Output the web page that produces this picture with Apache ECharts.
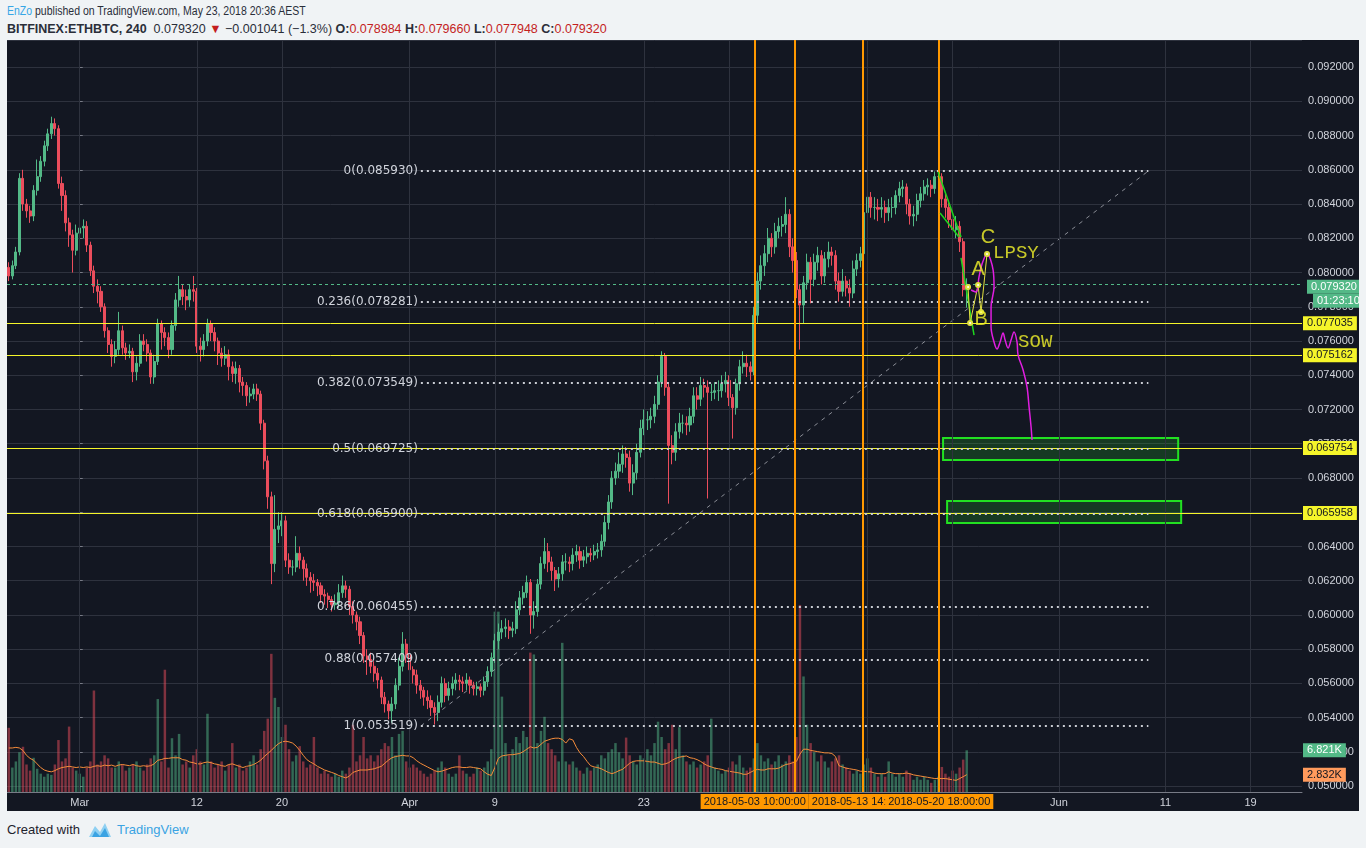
<!DOCTYPE html>
<html><head><meta charset="utf-8">
<script src="https://cdn.jsdelivr.net/npm/echarts@6/dist/echarts.min.js"></script>
<style>
html,body{margin:0;padding:0;}
body{width:1366px;height:848px;background:#f0f3f5;position:relative;overflow:hidden;font-family:"Liberation Sans",Arial,sans-serif;}
.hdr{position:absolute;left:7px;white-space:nowrap;color:#2a2e39;}
#l1{top:4px;font-size:12.5px;transform-origin:0 50%;transform:scaleX(0.84);}
#l2{top:22px;font-size:12.5px;}
.r{color:#c41e1e;}
#chart{position:absolute;left:7px;top:40px;width:1352px;height:771px;}
#foot{position:absolute;left:7px;top:821px;white-space:nowrap;font-size:13px;color:#1e222d;}
#foot svg{vertical-align:-5px;margin:0 5px 0 8px;}
#foot .tv{color:#3aa3e3;}
</style></head>
<body>
<div class="hdr" id="l1"><span style="color:#36a6e6">EnZo</span> published on TradingView.com, May 23, 2018 20:36 AEST</div>
<div class="hdr" id="l2"><b>BITFINEX:ETHBTC, 240</b>&nbsp; 0.079320 <span class="r">▼</span> −0.001041 (−1.3%) <b>O:</b><span class="r">0.078984</span> <b>H:</b><span class="r">0.079660</span> <b>L:</b><span class="r">0.077948</span> <b>C:</b><span class="r">0.079320</span></div>
<div id="chart"></div>
<div id="foot">Created with<svg width="24" height="18" viewBox="0 0 24 18"><path d="M1 16 L7 5 L12 11 L17 2 L23 16 Z" fill="#8fd0f2"/><path d="M4 16 L7 10 L12 15 L17 7 L21 16 Z" fill="#3aa3e3"/></svg><span class="tv">TradingView</span></div>
<script>
// ---------------- data (8h candles, [open, close, low, high]) ----------------
const candles = [
[.0803,.0798,.0795,.0806],[.0798,.0804,.0796,.0807],[.0804,.0812,.0802,.0815],[.0812,.0855,.0810,.0858],[.0855,.0840,.0836,.0860],[.0840,.0836,.0832,.0843],[.0836,.0833,.0829,.0839],[.0833,.0848,.0830,.0851],[.0848,.0856,.0845,.0866],[.0856,.0865,.0853,.0868],
[.0865,.0874,.0862,.0877],[.0874,.0881,.0871,.0884],[.0881,.0887,.0878,.0891],[.0887,.0884,.0880,.0890],[.0884,.0852,.0849,.0886],[.0852,.0845,.0836,.0856],[.0845,.0829,.0824,.0848],[.0829,.0822,.0815,.0832],[.0822,.0813,.0800,.0825],[.0813,.0823,.0810,.0828],
[.0823,.0826,.0819,.0830],[.0826,.0827,.0820,.0831],[.0827,.0816,.0812,.0830],[.0816,.0801,.0798,.0818],[.0801,.0792,.0788,.0804],[.0792,.0789,.0782,.0796],[.0789,.0780,.0777,.0792],[.0780,.0766,.0762,.0782],[.0766,.0758,.0753,.0768],[.0758,.0751,.0745,.0761],
[.0751,.0755,.0747,.0760],[.0755,.0766,.0752,.0777],[.0766,.0756,.0752,.0769],[.0756,.0753,.0749,.0759],[.0753,.0754,.0750,.0758],[.0754,.0742,.0736,.0756],[.0742,.0747,.0737,.0751],[.0747,.0760,.0745,.0764],[.0760,.0758,.0754,.0764],[.0758,.0753,.0748,.0761],
[.0753,.0739,.0735,.0755],[.0739,.0748,.0735,.0752],[.0748,.0770,.0746,.0773],[.0770,.0765,.0755,.0772],[.0765,.0762,.0757,.0768],[.0762,.0755,.0750,.0765],[.0755,.0769,.0752,.0772],[.0769,.0784,.0766,.0788],[.0784,.0790,.0780,.0798],[.0790,.0786,.0781,.0793],
[.0786,.0784,.0778,.0790],[.0784,.0790,.0780,.0793],[.0790,.0789,.0783,.0798],[.0789,.0757,.0753,.0791],[.0757,.0755,.0748,.0762],[.0755,.0760,.0751,.0764],[.0760,.0770,.0757,.0773],[.0770,.0765,.0760,.0772],[.0765,.0760,.0754,.0768],[.0760,.0753,.0746,.0762],
[.0753,.0750,.0745,.0756],[.0750,.0752,.0746,.0757],[.0752,.0745,.0737,.0755],[.0745,.0741,.0736,.0748],[.0741,.0744,.0735,.0748],[.0744,.0736,.0730,.0746],[.0736,.0734,.0728,.0739],[.0734,.0728,.0722,.0736],[.0728,.0729,.0724,.0733],[.0729,.0732,.0726,.0735],
[.0732,.0729,.0725,.0735],[.0729,.0712,.0708,.0731],[.0712,.0690,.0685,.0714],[.0690,.0669,.0662,.0693],[.0669,.0630,.0618,.0672],[.0630,.0650,.0625,.0670],[.0650,.0652,.0642,.0660],[.0652,.0655,.0646,.0660],[.0655,.0632,.0628,.0658],[.0632,.0628,.0624,.0636],
[.0628,.0628,.0623,.0632],[.0628,.0636,.0625,.0646],[.0636,.0632,.0627,.0640],[.0632,.0627,.0620,.0634],[.0627,.0622,.0617,.0630],[.0622,.0620,.0613,.0625],[.0620,.0619,.0614,.0624],[.0619,.0617,.0611,.0621],[.0617,.0612,.0607,.0619],[.0612,.0611,.0606,.0615],
[.0611,.0609,.0604,.0613],[.0609,.0606,.0602,.0611],[.0606,.0607,.0603,.0612],[.0607,.0613,.0604,.0618],[.0613,.0617,.0610,.0623],[.0617,.0615,.0610,.0620],[.0615,.0605,.0600,.0617],[.0605,.0600,.0595,.0608],[.0600,.0596,.0591,.0602],[.0596,.0588,.0583,.0599],
[.0588,.0576,.0572,.0590],[.0576,.0574,.0565,.0580],[.0574,.0570,.0566,.0578],[.0570,.0566,.0561,.0573],[.0566,.0562,.0557,.0569],[.0562,.0552,.0548,.0564],[.0552,.0548,.0543,.0555],[.0548,.0544,.0539,.0550],[.0544,.0548,.0537,.0552],[.0548,.0559,.0545,.0563],
[.0559,.0570,.0556,.0575],[.0570,.0583,.0567,.0590],[.0583,.0577,.0572,.0586],[.0577,.0568,.0563,.0580],[.0568,.0565,.0560,.0570],[.0565,.0559,.0554,.0568],[.0559,.0556,.0551,.0562],[.0556,.0552,.0547,.0558],[.0552,.0550,.0545,.0556],[.0550,.0546,.0541,.0553],
[.0546,.0543,.0536,.0549],[.0543,.0549,.0538,.0553],[.0549,.0560,.0546,.0564],[.0560,.0553,.0549,.0563],[.0553,.0557,.0550,.0561],[.0557,.0560,.0553,.0564],[.0560,.0562,.0556,.0566],[.0562,.0561,.0556,.0565],[.0561,.0560,.0555,.0564],[.0560,.0562,.0556,.0566],
[.0562,.0559,.0554,.0564],[.0559,.0557,.0553,.0561],[.0557,.0558,.0553,.0561],[.0558,.0556,.0552,.0560],[.0556,.0561,.0553,.0564],[.0561,.0567,.0558,.0570],[.0567,.0575,.0564,.0578],[.0575,.0585,.0572,.0589],[.0585,.0590,.0580,.0595],[.0590,.0592,.0586,.0597],
[.0592,.0593,.0587,.0598],[.0593,.0591,.0586,.0597],[.0591,.0592,.0587,.0596],[.0592,.0603,.0589,.0608],[.0603,.0610,.0600,.0614],[.0610,.0613,.0606,.0617],[.0613,.0619,.0610,.0623],[.0619,.0600,.0589,.0621],[.0600,.0602,.0592,.0608],[.0602,.0618,.0599,.0621],
[.0618,.0630,.0615,.0634],[.0630,.0637,.0627,.0645],[.0637,.0631,.0625,.0642],[.0631,.0626,.0620,.0634],[.0626,.0621,.0614,.0628],[.0621,.0624,.0616,.0628],[.0624,.0631,.0620,.0635],[.0631,.0631,.0626,.0636],[.0631,.0630,.0625,.0634],[.0630,.0635,.0626,.0639],
[.0635,.0637,.0631,.0641],[.0637,.0632,.0627,.0640],[.0632,.0634,.0628,.0638],[.0634,.0636,.0630,.0640],[.0636,.0635,.0631,.0639],[.0635,.0637,.0632,.0641],[.0637,.0638,.0633,.0642],[.0638,.0643,.0634,.0647],[.0643,.0654,.0640,.0658],[.0654,.0666,.0650,.0670],
[.0666,.0680,.0662,.0684],[.0680,.0684,.0676,.0689],[.0684,.0688,.0680,.0695],[.0688,.0694,.0683,.0699],[.0694,.0692,.0686,.0698],[.0692,.0677,.0672,.0696],[.0677,.0683,.0670,.0688],[.0683,.0695,.0679,.0700],[.0695,.0709,.0692,.0714],[.0709,.0714,.0705,.0720],
[.0714,.0714,.0708,.0719],[.0714,.0716,.0709,.0721],[.0716,.0723,.0712,.0728],[.0723,.0736,.0720,.0740],[.0736,.0751,.0733,.0754],[.0751,.0733,.0728,.0753],[.0733,.0699,.0665,.0736],[.0699,.0695,.0688,.0705],[.0695,.0707,.0690,.0712],[.0707,.0712,.0703,.0718],
[.0712,.0712,.0706,.0717],[.0712,.0711,.0705,.0716],[.0711,.0716,.0707,.0721],[.0716,.0728,.0712,.0733],[.0728,.0726,.0720,.0733],[.0726,.0734,.0722,.0739],[.0734,.0733,.0727,.0738],[.0733,.0730,.0668,.0737],[.0730,.0730,.0725,.0735],[.0730,.0731,.0726,.0736],
[.0731,.0731,.0725,.0737],[.0731,.0735,.0727,.0740],[.0735,.0737,.0730,.0742],[.0737,.0727,.0722,.0740],[.0727,.0721,.0703,.0729],[.0721,.0735,.0717,.0738],[.0735,.0745,.0731,.0749],[.0745,.0747,.0741,.0754],[.0747,.0745,.0739,.0752],[.0745,.0742,.0737,.0748],
[.0742,.0775,.0740,.0780],[.0775,.0795,.0770,.0800],[.0795,.0804,.0790,.0810],[.0804,.0811,.0798,.0816],[.0811,.0820,.0806,.0826],[.0820,.0815,.0809,.0823],[.0815,.0824,.0811,.0829],[.0824,.0827,.0820,.0832],[.0827,.0828,.0821,.0833],[.0828,.0834,.0823,.0844],
[.0834,.0815,.0809,.0837],[.0815,.0807,.0800,.0820],[.0807,.0790,.0785,.0812],[.0790,.0781,.0755,.0793],[.0781,.0794,.0770,.0798],[.0794,.0806,.0790,.0811],[.0806,.0796,.0782,.0809],[.0796,.0806,.0792,.0811],[.0806,.0810,.0801,.0815],[.0810,.0798,.0793,.0813],
[.0798,.0808,.0794,.0812],[.0808,.0812,.0803,.0818],[.0812,.0810,.0804,.0815],[.0810,.0795,.0790,.0813],[.0795,.0789,.0783,.0800],[.0789,.0795,.0786,.0802],[.0795,.0791,.0786,.0798],[.0791,.0788,.0780,.0796],[.0788,.0802,.0785,.0807],[.0802,.0807,.0798,.0811],
[.0807,.0811,.0803,.0815],[.0811,.0835,.0808,.0840],[.0835,.0844,.0831,.0849],[.0844,.0838,.0832,.0847],[.0838,.0838,.0831,.0844],[.0838,.0837,.0830,.0843],[.0837,.0838,.0832,.0844],[.0838,.0835,.0829,.0842],[.0835,.0838,.0830,.0843],[.0838,.0838,.0832,.0844],
[.0838,.0845,.0834,.0848],[.0845,.0849,.0841,.0853],[.0849,.0850,.0844,.0854],[.0850,.0840,.0834,.0852],[.0840,.0833,.0828,.0843],[.0833,.0834,.0827,.0839],[.0834,.0842,.0830,.0846],[.0842,.0846,.0838,.0850],[.0846,.0850,.0842,.0854],[.0850,.0851,.0845,.0855],
[.0851,.0849,.0844,.0854],[.0849,.0856,.0846,.0859],[.0856,.0856,.0850,.0860],[.0856,.0843,.0838,.0858],[.0843,.0838,.0832,.0846],[.0838,.0831,.0826,.0842],[.0831,.0825,.0819,.0834],[.0825,.0827,.0820,.0833],[.0827,.0818,.0812,.0830],[.0818,.0790,.0786,.0820],[.078984,.07932,.077948,.07966]
];
// volume per candle (thousands)
const volumes = [
10.5,4,5,6.5,7.4,4.5,3.5,5.6,3.8,3, 2.5,3,2.8,4.5,8.5,5,5.5,10.7,4,3.5, 3,2.5,4,5,16.6,4.5,5,6,5.5,4, 4,5,4.5,3.5,4,4.5,5,4,3.5,4.5,
5.5,6,15.2,5,20,4,8.8,6,9.5,4.5, 5,4,6,7,5,4.5,12.8,5,4,4.5, 5,3.5,4.5,8,4,4.5,3.5,4,5,6, 4.5,7,10,12,22.6,15.4,13.9,9,11,7,
5,6,7.5,5,4,4.5,9,4,3,3.5, 3,2.5,3,2.5,3.5,3,4,11,5,6, 9,5.5,6,5,6,7,8,7.5,9,6, 9.5,10,5,4,4.5,4,3.5,3,2.5,3,
3.5,4,5,4,3,2.5,3,6,3.5,3, 2.5,3,4,3.5,4,5,7,29.5,29.5,15.6, 8,6,7,9,8,10,9,22.8,22.5,8, 10,12.3,8,7,6,5,24.4,5,4.5,5,
4,3.5,3,4,3.5,4,4.5,6,5.5,6.5, 7,8,6.5,5.5,8.9,6,5,4.5,6,5.5, 7,6,8,11.5,9,7,8,11,7,10.6, 6,5,4.5,5,4,4.5,5,6,12,4,
3.5,3,3.5,4,5,4.5,6,4,3.5,4, 5.5,8,6,5,5.5,4.5,5,6,4.5,5, 6,5,9,30.6,18.9,11,8,6.5,5,6, 5,4,5,5.5,6,4.5,4,3.5,3,3.5,
3,4.5,5.5,4,3,2.5,3,2.5,5,3, 2.5,3,2.5,3.5,3,2,2.5,2,2.5,2, 1.5,2,2.5,4.1,3,2.5,3.5,3,4,5.3,6.821
];
// volume moving average (thousands)
const volumeMA = [
7.2,7.2,7.3,7.2,6.8,6.0,5.5,5.2,4.6,4.0, 3.6,3.4,3.3,3.5,3.8,4.0,4.1,4.2,4.1,4.0, 4.1,4.0,4.1,4.0,4.2,4.3,4.2,4.4,4.3,4.4, 4.2,4.4,4.5,4.4,4.3,4.5,4.3,4.2,4.3,4.2,
4.3,4.6,5.2,5.3,5.5,5.5,5.6,5.6,5.6,5.3, 5.2,4.9,4.8,4.6,4.6,4.8,4.9,4.8,4.6,4.5, 4.3,4.2,4.5,4.6,4.4,4.2,4.0,4.2,4.3,4.5, 4.8,5.2,5.8,6.3,6.8,7.4,7.9,8.2,8.3,8.2,
8.0,7.5,6.8,6.0,5.3,4.9,4.6,4.2,3.9,3.6, 3.4,3.2,3.0,2.7,2.5,2.3,2.6,3.2,3.4,3.6, 3.6,3.6,3.7,3.8,4.0,4.2,4.7,5.2,5.6,5.8, 5.9,6.0,5.9,5.9,5.6,5.1,4.7,4.4,4.1,3.8,
3.5,3.3,3.4,3.6,3.8,4.0,4.1,4.1,4.0,4.0, 4.1,4.0,3.9,3.8,3.3,2.9,2.7,4.0,5.5,5.9, 6.0,6.1,6.1,6.2,6.3,6.6,7.0,7.4,7.2,7.3, 7.8,8.3,8.5,8.7,8.8,8.8,8.6,8.0,8.7,8.5,
7.3,6.4,5.8,5.0,4.3,4.1,4.0,3.8,3.5,3.2, 3.0,3.2,3.5,3.7,4.2,4.7,5.0,5.1,5.1,5.1, 5.0,4.9,4.9,4.7,4.5,4.6,4.8,5.2,5.5,5.7, 5.8,5.9,5.6,5.5,5.3,5.0,4.6,4.3,4.1,3.9,
3.8,3.7,3.5,3.4,3.3,3.2,3.1,2.9,2.9,3.2, 3.5,3.7,3.6,3.6,3.8,3.8,3.8,3.9,4.2,4.5, 4.6,4.8,5.0,6.2,7.0,7.0,6.8,6.7,6.6,6.5, 6.4,6.4,6.3,5.8,4.3,4.1,3.9,3.8,3.7,3.6,
3.4,3.4,3.3,3.3,3.1,3.0,3.0,3.0,3.3,3.1, 3.0,3.0,3.0,3.1,3.0,2.8,2.7,2.6,2.5,2.4, 2.3,2.2,2.2,2.2,2.2,2.1,2.0,1.9,2.2,2.5,2.832
];
// axis ticks
const tickDates  = ['2018-03-01','2018-03-12','2018-03-20','2018-04-01','2018-04-09','2018-04-23','2018-06-01','2018-06-11','2018-06-19'];
const tickLabels = ['Mar','12','20','Apr','9','23','Jun','11','19'];
const gridDates  = tickDates.concat(['2018-05-01','2018-05-14','2018-05-22']);
// fib retracement
const fibRatios = ['0','0.236','0.382','0.5','0.618','0.786','0.88','1'];
const fibPrices = [0.085930,0.078281,0.073549,0.069725,0.065900,0.060455,0.057409,0.053519];
const fibDays   = [32.05, 100.4];            // days since 2018-03-01
// horizontal levels & tags
const levelPrices = [0.077035,0.075162,0.069754,0.065958];
const lastPrice = 0.079320, lastPriceText = '0.079320', barTimer = '01:23:10';
const volTagValues = [6.821, 2.832], volTagTexts = ['6.821K','2.832K'];
// vertical markers
const vlineTimes  = ['2018-05-07 04:00','2018-05-03 10:00','2018-05-13 14:00','2018-05-20 18:00'];
const vlineLabels = ['','2018-05-03 10:00:00','2018-05-13 14:00:00','2018-05-20 18:00:00'];
// drawings: [days since 2018-03-01, price]
const greenLines = [
  [[80.64,0.08587],[82.80,0.08207]],
  [[80.83,0.08348],[82.61,0.08207]],
  [[82.80,0.08085],[84.02,0.07635]]
];
const abcPath = [[83.46,0.07915],[83.65,0.07705],[84.40,0.07927],[84.68,0.07769],[85.24,0.08108]];
const projPath = [[83.74,0.07898],[84.21,0.07886],[84.49,0.07974],[84.77,0.08050],[85.24,0.08108],[85.81,0.08015],[85.90,0.07915],[85.62,0.07799],[85.62,0.07682],[85.90,0.07594],[86.18,0.07553],[86.47,0.07594],[86.75,0.07647],[86.94,0.07606],[87.22,0.07559],[87.50,0.07606],[87.78,0.07653],[88.06,0.07594],[88.16,0.07518],[88.63,0.07431],[89.00,0.07331],[89.19,0.07215],[89.38,0.07098],[89.47,0.07022]];
const targetBoxes = [[[81.11,0.070334],[103.2,0.069049]],[[81.49,0.066654],[103.48,0.065369]]];
const noteTexts  = ['C','A','B','LPSY','SOW'];
const notePoints = [[85.34,0.08202],[84.40,0.08015],[84.68,0.07723],[85.81,0.08114],[88.16,0.07594]];

// ---------------- build ----------------
const DAY = 86400000, MAR1 = Date.UTC(2018,2,1), START = Date.UTC(2018,1,22,8), STEP = 8*3600000, SLOTS = 365;
const pad = n => (n < 10 ? '0' : '') + n;
const categories = [];
for (let i = 0; i < SLOTS; i++) {
  const d = new Date(START + i*STEP);
  categories.push(d.getUTCFullYear()+'-'+pad(d.getUTCMonth()+1)+'-'+pad(d.getUTCDate())+' '+pad(d.getUTCHours())+':00');
}
const labelMap = {}; tickDates.forEach((d,k) => { labelMap[d+' 00:00'] = tickLabels[k]; });
const dayOf = s => (Date.parse(s.replace(' ','T')+':00Z') - MAR1)/DAY;
const xMin = (START - STEP/2 - MAR1)/DAY, xMax = xMin + SLOTS*STEP/DAY;

const UP = '#53b987', DOWN = '#eb4d5c', GRID = '#2e323e', AXIS = '#787b86', TXT = '#d1d4dc', YEL = '#f5f52a';
const volData = volumes.map((v,i) => ({value: v, itemStyle: {color: candles[i][1] >= candles[i][0] ? 'rgba(83,185,135,0.5)' : 'rgba(235,77,92,0.5)'}}));

const chart = echarts.init(document.getElementById('chart'));
const option = {
  animation: false,
  backgroundColor: '#131722',
  textStyle: {fontFamily: 'Liberation Sans'},
  grid: {left: 0, right: 57, top: 0, bottom: 19, containLabel: false, outerBoundsMode: 'none'},
  xAxis: [
    {type: 'category', data: categories, boundaryGap: true, gridIndex: 0,
     axisLine: {show: true, lineStyle: {color: AXIS}}, axisTick: {show: false},
     axisLabel: {interval: (i,v) => labelMap[v] !== undefined, formatter: v => labelMap[v] || '', color: TXT, fontSize: 11, margin: 5, hideOverlap: false},
     splitLine: {show: false}},
    {type: 'value', min: xMin, max: xMax, show: false, gridIndex: 0}
  ],
  yAxis: [
    {type: 'value', position: 'right', min: 0.04966, max: 0.09358, splitNumber: 22, minInterval: 0.002, maxInterval: 0.002, gridIndex: 0,
     axisLine: {show: true, lineStyle: {color: AXIS}}, axisTick: {show: true, length: 3, lineStyle: {color: AXIS}},
     axisLabel: {formatter: v => v.toFixed(6), color: TXT, fontSize: 11, margin: 6, showMinLabel: false, showMaxLabel: false, hideOverlap: false},
     splitLine: {show: true, lineStyle: {color: GRID, width: 1}}},
    {type: 'value', min: 0, max: 123, show: false, gridIndex: 0}
  ],
  series: [
    {type: 'line', name: 'Time grid', xAxisIndex: 1, yAxisIndex: 0, z: 0, silent: true, symbol: 'none', data: [],
     markLine: {silent: true, symbol: ['none','none'], animation: false, precision: 6, label: {show: false},
       lineStyle: {color: GRID, width: 1, type: 'solid'},
       data: gridDates.map(d => ({xAxis: dayOf(d + ' 00:00')}))}},
    {type: 'bar', name: 'Volume', xAxisIndex: 0, yAxisIndex: 1, data: volData, barWidth: '70%', z: 1, silent: true,
     markLine: {silent: true, symbol: ['none','none'], animation: false, precision: 6, lineStyle: {color: 'rgba(0,0,0,0)', width: 0},
       label: {position: 'end', distance: 1, fontSize: 11, padding: [2,4,1,4]},
       data: [
         {yAxis: volTagValues[0], label: {formatter: volTagTexts[0], backgroundColor: UP, color: '#ffffff'}},
         {yAxis: volTagValues[1], label: {formatter: volTagTexts[1], backgroundColor: '#ff9a5c', color: '#131722'}}
       ]}},
    {type: 'line', name: 'Vol MA', xAxisIndex: 0, yAxisIndex: 1, data: volumeMA, symbol: 'none', z: 2, silent: true,
     lineStyle: {color: '#f68c3a', width: 1}},
    {type: 'candlestick', name: 'ETHBTC', xAxisIndex: 0, yAxisIndex: 0, data: candles, barWidth: '72%', z: 3, silent: true,
     itemStyle: {color: UP, color0: DOWN, borderColor: UP, borderColor0: DOWN, borderWidth: 1},
     markLine: {silent: true, symbol: ['none','none'], animation: false, precision: 6,
       label: {position: 'end', distance: 1, fontSize: 11, padding: [2,4,1,4], color: '#131722', backgroundColor: YEL},
       lineStyle: {color: YEL, width: 1, type: 'solid'},
       data: levelPrices.map(v => ({yAxis: v, label: {formatter: v.toFixed(6)}})).concat([
         {yAxis: lastPrice, lineStyle: {color: UP, type: [3,3], width: 1},
          label: {formatter: () => '{px|' + lastPriceText + '}\n{sp| }{tm|' + barTimer + '}', backgroundColor: 'transparent', offset: [0, 9],
            rich: {px: {backgroundColor: UP, color: '#ffffff', fontSize: 11, padding: [2,4,1,4]},
                   sp: {width: 6, fontSize: 11},
                   tm: {backgroundColor: UP, color: '#ffffff', fontSize: 11, padding: [2,4,1,4]}}}}
       ])}},
    {type: 'line', name: 'Fib trend', xAxisIndex: 1, yAxisIndex: 0, z: 4, silent: true, symbol: 'none',
     data: [[fibDays[0], fibPrices[7]], [fibDays[1], fibPrices[0]]],
     lineStyle: {color: '#8a8d96', width: 1, type: [4,5]},
     markLine: {silent: true, symbol: ['none','none'], animation: false, precision: 6,
       lineStyle: {color: '#c9ccd3', width: 2, type: [2,4]},
       label: {position: 'start', distance: 3, color: TXT, fontSize: 12, fontFamily: 'DejaVu Sans'},
       data: fibRatios.map((r,k) => [
         {coord: [fibDays[0], fibPrices[k]], label: {formatter: r + '(' + fibPrices[k].toFixed(6) + ')'}},
         {coord: [fibDays[1], fibPrices[k]]}
       ])}},
    ...greenLines.map(seg => ({type: 'line', xAxisIndex: 1, yAxisIndex: 0, z: 5, silent: true, symbol: 'none', data: seg,
       lineStyle: {color: '#1ed61e', width: 1.5}})),
    {type: 'line', name: 'ABC', xAxisIndex: 1, yAxisIndex: 0, z: 6, silent: true, data: abcPath,
     symbol: 'emptyCircle', symbolSize: 4, showSymbol: true, itemStyle: {color: '#e0e040'}, lineStyle: {color: '#e0e040', width: 1},
     markLine: {silent: true, symbol: ['none','none'], animation: false, precision: 6,
       lineStyle: {color: '#ff9800', width: 2, type: 'solid'},
       label: {position: 'start', distance: 2, fontSize: 11, color: '#131722', backgroundColor: '#ff9800', padding: [2,3,2,3]},
       data: vlineTimes.map((t,k) => ({xAxis: dayOf(t), label: vlineLabels[k] ? {formatter: vlineLabels[k]} : {show: false}}))}},
    {type: 'line', name: 'Projection', xAxisIndex: 1, yAxisIndex: 0, z: 6, silent: true, data: projPath, smooth: 0.35,
     symbol: 'none', lineStyle: {color: '#e01ee0', width: 1.5},
     markArea: {silent: true, animation: false,
       itemStyle: {color: 'rgba(40,230,40,0.17)', borderColor: '#22e022', borderWidth: 2},
       data: targetBoxes.map(b => [{coord: b[0]}, {coord: b[1]}])}},
    {type: 'scatter', name: 'Notes', xAxisIndex: 1, yAxisIndex: 0, z: 7, silent: true, symbolSize: 0,
     data: noteTexts.map((t,k) => ({value: notePoints[k], label: t.length === 1
        ? {show: true, formatter: t, position: 'inside', color: YEL, fontSize: 20, fontFamily: 'Liberation Sans'}
        : {show: true, formatter: t, position: 'right', distance: 0, color: YEL, fontSize: 19, fontFamily: 'Liberation Mono'}}))}
  ]
};
chart.setOption(option);
</script>
</body></html>
